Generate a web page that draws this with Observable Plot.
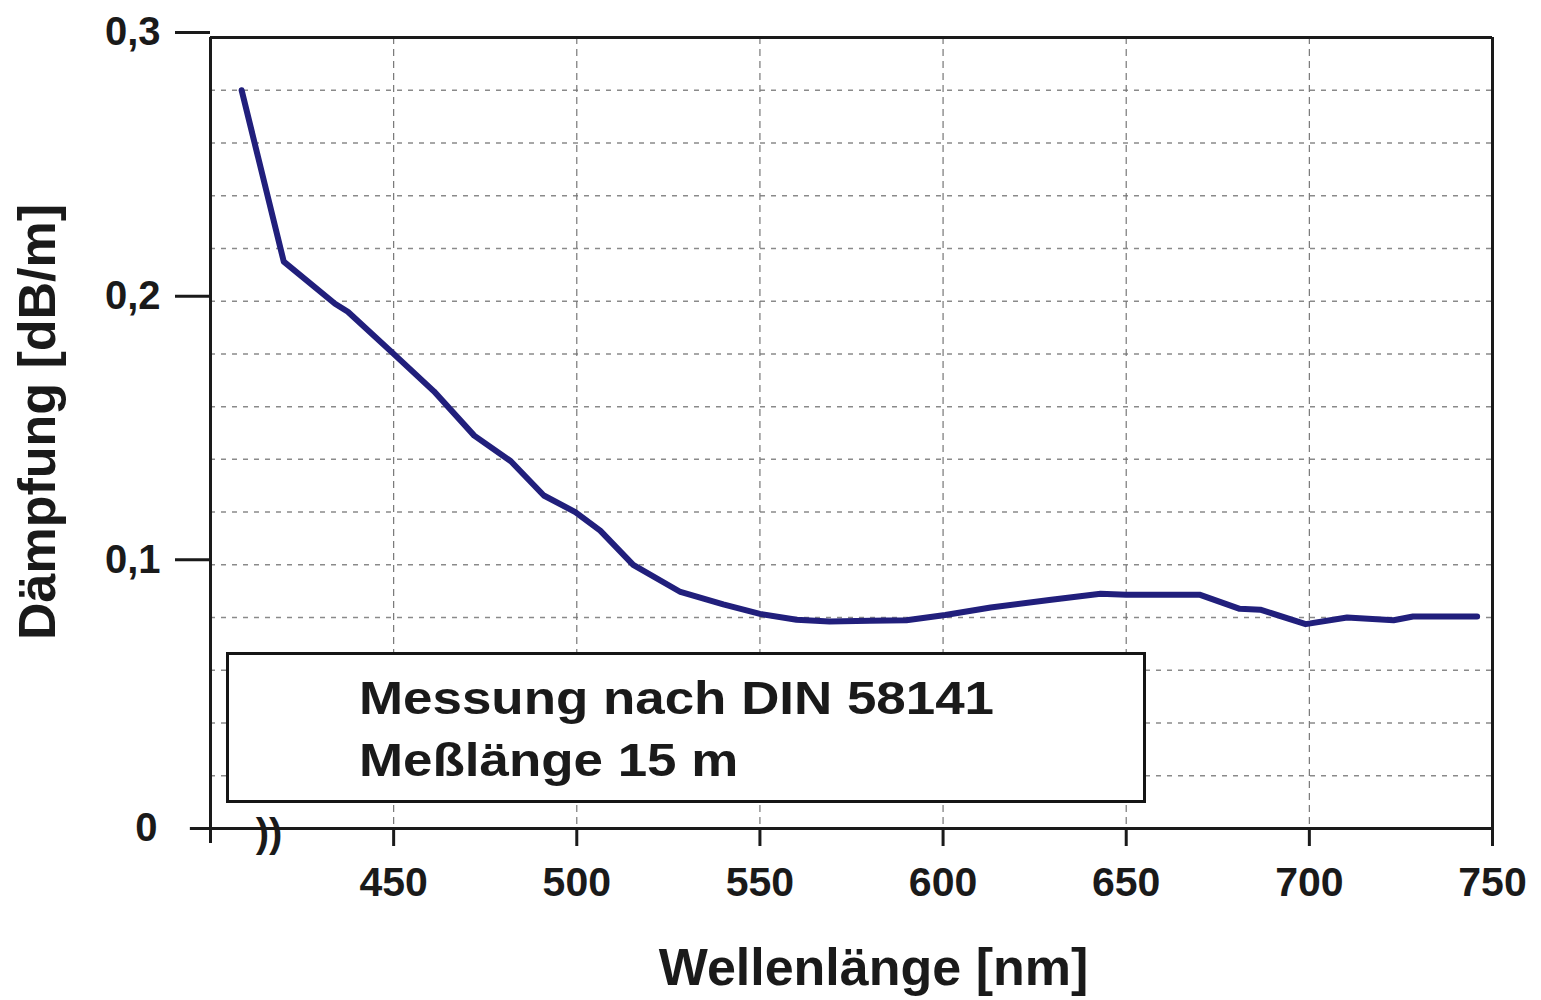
<!DOCTYPE html>
<html>
<head>
<meta charset="utf-8">
<script src="https://cdn.jsdelivr.net/npm/d3@7"></script>
<script src="https://cdn.jsdelivr.net/npm/@observablehq/plot@0.6"></script>
<style>
  html, body { margin: 0; padding: 0; background: #fff; }
  #wrap { position: relative; width: 1541px; height: 1000px; font-family: "Liberation Sans", Arial, sans-serif; }
  #note {
    position: absolute; left: 226px; top: 652px; width: 914px; height: 145px;
    border: 3px solid #151515; background: #fff; box-sizing: content-box;
    font-weight: bold; font-size: 46px; color: #1a1a1a;
  }
  #note span {
    position: absolute; left: 130px; display: inline-block; white-space: nowrap;
    transform: scaleX(1.15); transform-origin: left center; line-height: 1;
  }
</style>
</head>
<body>
<div id="wrap"></div>
<script>
// Data
const wavelength = [408.5, 420, 434, 437.5, 450, 461, 472, 482, 491, 499.6, 506.4, 515.4, 528.3, 540, 550, 560, 569, 580, 590, 600.6, 613, 629, 643, 650, 670, 681, 686.6, 699, 710.3, 723, 728.3, 745.8];
const attenuation = [0.28, 0.215, 0.199, 0.196, 0.18, 0.1658, 0.149, 0.1393, 0.1263, 0.12, 0.113, 0.1, 0.0897, 0.085, 0.0814, 0.0792, 0.0785, 0.0788, 0.079, 0.081, 0.0838, 0.0867, 0.089, 0.0887, 0.0887, 0.0833, 0.083, 0.0775, 0.08, 0.079, 0.0804, 0.0804];
const xTicks = [450, 500, 550, 600, 650, 700, 750];
const yTicks = [0, 0.1, 0.2, 0.3];
const yTickLabels = ["0", "0,1", "0,2", "0,3"];
const xGrid = [450, 500, 550, 600, 650, 700];
const yGrid = [0.02, 0.04, 0.06, 0.08, 0.1, 0.12, 0.14, 0.16, 0.18, 0.2, 0.22, 0.24, 0.26, 0.28];
const xTitle = "Wellenlänge [nm]";
const yTitle = "Dämpfung [dB/m]";
const noteLines = ["Messung nach DIN 58141", "Meßlänge 15 m"];

const data = wavelength.map((w, i) => ({w, a: attenuation[i]}));
const font = "Liberation Sans, Arial, sans-serif";
const ink = "#1a1a1a";

const chart = Plot.plot({
  width: 1541,
  height: 1000,
  marginLeft: 210,
  marginRight: 49,
  marginTop: 37,
  marginBottom: 172,
  style: {background: "#fff", fontFamily: font, color: ink},
  x: {domain: [400, 750], axis: null},
  y: {domain: [0, 0.3], axis: null},
  marks: [
    Plot.ruleY(yGrid, {stroke: "#8a8a8a", strokeWidth: 1.5, strokeDasharray: "5,6"}),
    Plot.ruleX(xGrid, {stroke: "#777", strokeWidth: 1.2, strokeDasharray: "7,5"}),
    // frame
    Plot.ruleX([400], {y1: -0.0057, y2: 0.3, stroke: ink, strokeWidth: 3}),
    Plot.ruleX([750], {y1: 0, y2: 0.3, stroke: ink, strokeWidth: 3}),
    Plot.ruleY([0.3], {x1: 400, x2: 750, stroke: ink, strokeWidth: 3}),
    Plot.ruleY([0], {x1: 394.5, x2: 750, stroke: ink, strokeWidth: 3}),
    Plot.axisX(xTicks, {label: null, tickSize: 18, tickPadding: 20, fontSize: 41, fontWeight: "bold", strokeWidth: 3, stroke: ink, fill: ink}),
    Plot.axisY(yTicks.slice(1), {label: null, tickSize: 35, tickPadding: 15, dy: -5, fontSize: 40, fontWeight: "bold", strokeWidth: 3, stroke: ink, fill: ink,
      tickFormat: d => yTickLabels[yTicks.indexOf(d)]}),
    Plot.text([0], {x: 400, y: d => d, text: () => yTickLabels[0], dx: -53, textAnchor: "end", fontSize: 40, fontWeight: "bold", fill: ink}),
    // axis break
    Plot.text([0], {x: 416, y: d => d, text: () => "))", fontSize: 40, fill: ink, dy: 6, fontWeight: "bold"}),
    // curve
    Plot.line(data, {x: "w", y: "a", stroke: "#211f7c", strokeWidth: 6, strokeLinejoin: "round"}),
    // titles
    Plot.text([xTitle], {frameAnchor: "bottom", textAnchor: "middle", dx: 22, dy: 156, text: d => d, fontSize: 52, fontWeight: "bold", fill: ink}),
    Plot.text([yTitle], {frameAnchor: "left", textAnchor: "middle", dx: -172, dy: -11, rotate: -90, text: d => d, fontSize: 52, fontWeight: "bold", fill: ink})
  ]
});

const wrap = document.getElementById("wrap");
wrap.appendChild(chart);
const note = document.createElement("div");
note.id = "note";
noteLines.forEach((t, i) => {
  const s = document.createElement("span");
  s.textContent = t;
  s.style.top = (i === 0 ? 20 : 82) + "px";
  note.appendChild(s);
});
wrap.appendChild(note);
</script>
</body>
</html>
